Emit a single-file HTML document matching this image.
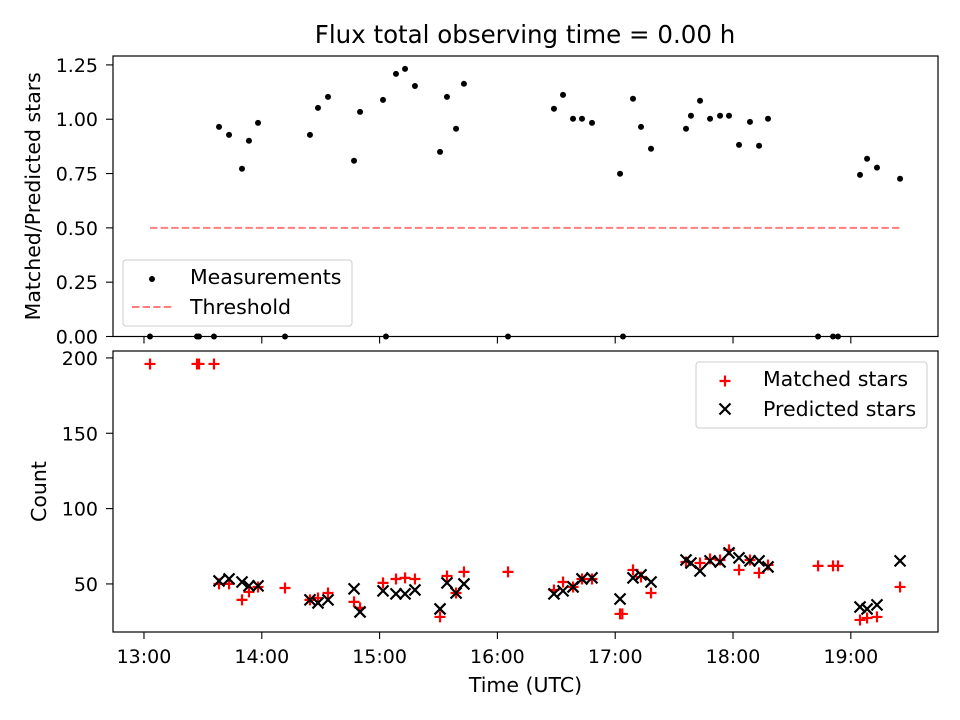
<!DOCTYPE html>
<html><head><meta charset="utf-8"><style>
body{margin:0;background:#fff}
svg{display:block;font-family:"DejaVu Sans","Liberation Sans",sans-serif}
</style></head><body>
<svg id="fig" width="960" height="720" viewBox="0 0 960 720"></svg>
<script>
// ---- data ----
const ratioTimes=[13.051,13.45,13.467,13.594,13.637,13.722,13.832,13.891,13.968,14.197,14.409,14.477,14.562,14.783,14.834,15.029,15.054,15.139,15.216,15.300,15.513,15.572,15.649,15.716,16.09,16.48,16.557,16.642,16.718,16.803,17.041,17.066,17.151,17.219,17.304,17.601,17.643,17.720,17.805,17.890,17.966,18.051,18.144,18.221,18.297,18.722,18.849,18.891,19.078,19.138,19.222,19.418];
const ratioValues=[0,0,0,0,0.965,0.928,0.772,0.901,0.983,0,0.928,1.052,1.103,0.809,1.034,1.089,0,1.209,1.232,1.153,0.850,1.103,0.956,1.163,0,1.048,1.112,1.002,1.002,0.983,0.749,0,1.094,0.965,0.864,0.956,1.016,1.085,1.002,1.016,1.016,0.882,0.988,0.878,1.002,0,0,0,0.744,0.818,0.777,0.726];
const thresholdValue=0.5;
const thresholdRange=[13.051,19.418];
const matchedTimes=[13.051,13.45,13.467,13.594,13.637,13.722,13.832,13.891,13.968,14.197,14.409,14.477,14.562,14.783,14.834,15.029,15.139,15.216,15.300,15.513,15.572,15.649,15.716,16.09,16.48,16.557,16.642,16.718,16.803,17.041,17.060,17.151,17.219,17.304,17.601,17.720,17.805,17.890,17.966,18.051,18.144,18.221,18.297,18.722,18.849,18.891,19.078,19.138,19.222,19.418];
const matchedValues=[196,196,196,196,50,50,39.4,44.7,48,47.3,39.4,40.7,44,38.1,34.1,50.7,53.3,54,53.3,28.1,55.3,44,58,58,46,51.3,48,53.3,53.3,30.1,30.1,59.3,54.6,44,64.6,63.9,66.6,65.9,72.6,59.3,65.9,57.3,62.6,62,62,62,26.1,27.4,28.1,48];
const predictedTimes=[13.637,13.722,13.832,13.891,13.968,14.409,14.477,14.562,14.783,14.834,15.029,15.139,15.216,15.300,15.513,15.572,15.649,15.716,16.48,16.557,16.642,16.718,16.803,17.041,17.151,17.219,17.304,17.601,17.643,17.720,17.805,17.890,17.966,18.051,18.144,18.221,18.297,19.078,19.138,19.222,19.418];
const predictedValues=[52,53.3,51.3,48.7,48.7,39.4,37.4,39.4,46.7,31.4,45.4,43.4,43.4,46,33.4,50.7,44,50,43.4,45.4,48,53.3,54,40,54,56,51.3,65.9,63.9,58.6,65.3,64.6,70.6,67.3,65.3,65.3,61.3,34.7,33.4,36.1,65.3];
const xTickHours=[13,14,15,16,17,18,19];
const xTickLabels=["13:00","14:00","15:00","16:00","17:00","18:00","19:00"];
const topTicks=[0,0.25,0.5,0.75,1.0,1.25];
const topTickLabels=["0.00","0.25","0.50","0.75","1.00","1.25"];
const botTicks=[50,100,150,200];
const botTickLabels=["50","100","150","200"];

// ---- scales ----
const L=113,R=938;
const xMin=12.737,xMax=19.74;
const X=h=>L+(h-xMin)/(xMax-xMin)*(R-L);
const T1=56,B1=336.5, yMax1=1.291;
const Y1=v=>B1-v/yMax1*(B1-T1);
const T2=351,B2=632, bMin=18.1,bMax=204.6;
const Y2=v=>B2-(v-bMin)/(bMax-bMin)*(B2-T2);
const TF=19, LF=20.5;

const svg=document.getElementById('fig');
const NS='http://www.w3.org/2000/svg';
function mk(tag,at,parent){const e=document.createElementNS(NS,tag);for(const k in at)e.setAttribute(k,at[k]);(parent||svg).appendChild(e);return e;}
function txt(s,at,parent){const e=mk('text',at,parent);e.textContent=s;return e;}

let t=txt('Flux total observing time = 0.00 h',{x:525,y:43,'font-size':'24.5','text-anchor':'middle',fill:'#000'});



// top axes
const g1=mk('g',{});


let th=mk('line',{x1:X(thresholdRange[0]),x2:X(thresholdRange[1]),y1:Y1(thresholdValue),y2:Y1(thresholdValue),stroke:'#ff7f7f','stroke-width':2,'stroke-dasharray':'7.4,3.2'},g1);


ratioTimes.forEach((h,i)=>{
  const c=mk('circle',{cx:X(h),cy:Y1(ratioValues[i]),r:3,fill:'#000'},g1);
  
  
});
topTicks.forEach((v,i)=>{
  mk('line',{x1:L-7,x2:L,y1:Y1(v),y2:Y1(v),stroke:'#000','stroke-width':1.1},g1);
  const tl=txt(topTickLabels[i],{x:L-15,y:Y1(v)+7,'font-size':TF,'text-anchor':'end'},g1);
  
  
});
xTickHours.forEach(h=>mk('line',{x1:X(h),x2:X(h),y1:B1,y2:B1+7,stroke:'#000','stroke-width':1.1},g1));
mk('rect',{x:L,y:T1,width:R-L,height:B1-T1,fill:'none',stroke:'#000','stroke-width':1.2},g1);
let yl1=txt('Matched/Predicted stars',{x:0,y:0,'font-size':LF,'text-anchor':'middle',transform:`translate(40,${(T1+B1)/2}) rotate(-90)`},g1);


const lg1=mk('g',{},g1);


mk('rect',{x:123,y:260,width:229,height:66,rx:3,fill:'#fff','fill-opacity':0.8,stroke:'#ccc'},lg1);
mk('circle',{cx:152,cy:279,r:3,fill:'#000'},lg1);
txt('Measurements',{x:190,y:284,'font-size':LF},lg1);
mk('line',{x1:132,x2:174,y1:307,y2:307,stroke:'#ff7f7f','stroke-width':2,'stroke-dasharray':'7.4,3.2'},lg1);
txt('Threshold',{x:190,y:314,'font-size':LF},lg1);

// bottom axes
const g2=mk('g',{});


function plus(x,y,p){return mk('path',{d:`M${x-5.5} ${y}H${x+5.5}M${x} ${y-5.5}V${y+5.5}`,stroke:'#ff0000','stroke-width':2.2},p);}
function cross(x,y,p){return mk('path',{d:`M${x-5.5} ${y-5.5}L${x+5.5} ${y+5.5}M${x-5.5} ${y+5.5}L${x+5.5} ${y-5.5}`,stroke:'#000','stroke-width':2.2},p);}
matchedTimes.forEach((h,i)=>{
  const m=plus(X(h),Y2(matchedValues[i]),g2);
  
  
});
predictedTimes.forEach((h,i)=>{
  const m=cross(X(h),Y2(predictedValues[i]),g2);
  
  
});
botTicks.forEach((v,i)=>{
  mk('line',{x1:L-7,x2:L,y1:Y2(v),y2:Y2(v),stroke:'#000','stroke-width':1.1},g2);
  const tl=txt(botTickLabels[i],{x:L-15,y:Y2(v)+7,'font-size':TF,'text-anchor':'end'},g2);
  
  
});
xTickHours.forEach((h,i)=>{
  mk('line',{x1:X(h),x2:X(h),y1:B2,y2:B2+7,stroke:'#000','stroke-width':1.1},g2);
  const tl=txt(xTickLabels[i],{x:X(h),y:B2+31,'font-size':TF,'text-anchor':'middle'},g2);
  
  
});
mk('rect',{x:L,y:T2,width:R-L,height:B2-T2,fill:'none',stroke:'#000','stroke-width':1.2},g2);
let yl2=txt('Count',{x:0,y:0,'font-size':LF,'text-anchor':'middle',transform:`translate(46,${(T2+B2)/2}) rotate(-90)`},g2);


let xl=txt('Time (UTC)',{x:(L+R)/2,y:692,'font-size':LF,'text-anchor':'middle'},g2);


const lg2=mk('g',{},g2);


mk('rect',{x:696,y:362,width:231,height:66,rx:3,fill:'#fff','fill-opacity':0.8,stroke:'#ccc'},lg2);
plus(725,381,lg2);
txt('Matched stars',{x:763,y:386,'font-size':LF},lg2);
cross(725,409,lg2);
txt('Predicted stars',{x:763,y:416,'font-size':LF},lg2);
</script>
</body></html>
